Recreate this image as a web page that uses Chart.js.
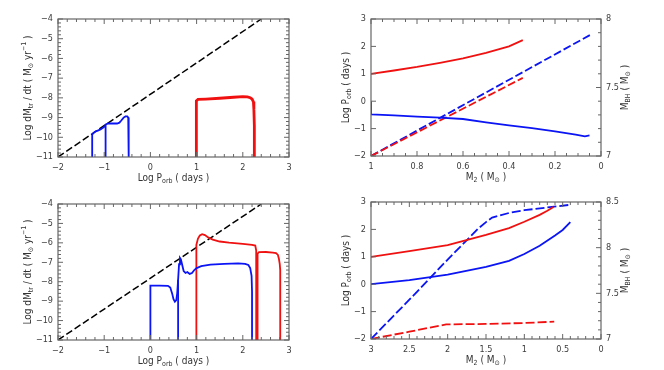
<!DOCTYPE html>
<html>
<head>
<meta charset="utf-8">
<script src="https://cdn.jsdelivr.net/npm/chart.js@4.4.1/dist/chart.umd.min.js"></script>
<style>
  html, body { margin: 0; padding: 0; background: #fff; }
  #wrap { position: relative; width: 664px; height: 370px; }
  #wrap canvas { position: absolute; }
</style>
</head>
<body>
<div id="wrap">
  <canvas id="tl" width="332" height="185" style="left:0;top:0"></canvas>
  <canvas id="tr" width="332" height="185" style="left:332px;top:0"></canvas>
  <canvas id="bl" width="332" height="185" style="left:0;top:185px"></canvas>
  <canvas id="br" width="332" height="185" style="left:332px;top:185px"></canvas>
</div>
<script>
// values, as [x, y] pairs

// critical rate line, same in both left panels
const limitLine = [[-2, -11], [2.4, -4]]

// top left: log dM/dt against log P
const tlBlueA = [[-1.26, -11], [-1.26, -9.88], [-1.24, -9.8], [-1.2, -9.72], [-1.14, -9.66], [-1.08, -9.6], [-1.02, -9.5], [-0.97, -9.42]]
const tlBlueB = [[-0.97, -11], [-0.97, -9.36], [-0.92, -9.3], [-0.8, -9.3], [-0.72, -9.3], [-0.67, -9.26], [-0.63, -9.15], [-0.58, -9.0], [-0.54, -8.94], [-0.5, -8.94], [-0.48, -9.0], [-0.47, -9.3], [-0.47, -11]]
const tlRed = [[0.99, -11], [0.99, -8.3], [1.0, -8.15], [1.03, -8.08], [1.2, -8.06], [1.5, -8.02], [1.8, -7.97], [2.0, -7.94], [2.1, -7.95], [2.16, -7.99], [2.2, -8.06], [2.23, -8.2], [2.24, -8.6], [2.25, -9.4], [2.25, -11]]

// top right: log P (left axis) and M_BH (right axis) against donor mass
const trRedP = [[1, 1.0], [0.9, 1.12], [0.8, 1.25], [0.7, 1.4], [0.6, 1.56], [0.5, 1.76], [0.4, 2.0], [0.34, 2.23]]
const trBlueP = [[1, 0.0], [1, -0.48], [0.9, -0.52], [0.8, -0.56], [0.7, -0.6], [0.6, -0.65], [0.5, -0.77], [0.4, -0.88], [0.3, -0.98], [0.2, -1.1], [0.11, -1.22], [0.07, -1.28], [0.05, -1.25]]
const trRedMbh = [[1, 7.0], [0.34, 7.57]]
const trBlueMbh = [[1, 7.0], [0.04, 7.89]]

// bottom left
const blBlueA = [[0, -11], [0, -8.2], [0.2, -8.2], [0.38, -8.21], [0.43, -8.3], [0.47, -8.6], [0.5, -8.9], [0.53, -9.03], [0.56, -8.95], [0.58, -8.6], [0.6, -7.9], [0.62, -7.1], [0.64, -6.78], [0.66, -6.85], [0.69, -7.15], [0.72, -7.45], [0.76, -7.55], [0.8, -7.5], [0.85, -7.6], [0.9, -7.55], [0.95, -7.4], [1.0, -7.3], [1.1, -7.2], [1.3, -7.12], [1.6, -7.08], [1.9, -7.06], [2.05, -7.08], [2.12, -7.14], [2.16, -7.3], [2.19, -7.7], [2.2, -8.5], [2.2, -11]]
const blBlueB = [[0.6, -11], [0.6, -7.9]]
const blRedA = [[0.99, -11], [0.99, -6.6], [1.0, -6.1], [1.03, -5.78], [1.07, -5.62], [1.12, -5.55], [1.18, -5.6], [1.25, -5.72], [1.35, -5.83], [1.5, -5.93], [1.7, -5.99], [2.0, -6.05], [2.2, -6.1], [2.27, -6.14], [2.29, -6.4], [2.29, -11]]
const blRedB = [[2.32, -11], [2.32, -6.55], [2.35, -6.48], [2.5, -6.47], [2.65, -6.5], [2.72, -6.53], [2.76, -6.62], [2.78, -6.8], [2.8, -7.1], [2.81, -7.4], [2.81, -11]]

// bottom right
const brRedP = [[3, 1.0], [2.5, 1.21], [2.0, 1.43], [1.5, 1.8], [1.2, 2.05], [1.0, 2.28], [0.8, 2.53], [0.7, 2.68], [0.62, 2.82]]
const brBlueP = [[3, 0.0], [2.5, 0.15], [2.0, 0.35], [1.5, 0.63], [1.2, 0.85], [1.0, 1.1], [0.8, 1.4], [0.6, 1.78], [0.5, 1.98], [0.4, 2.27]]
const brBlueMbh = [[3, 7.0], [2.5, 7.43], [2.0, 7.87], [1.6, 8.21], [1.5, 8.28], [1.42, 8.33], [1.2, 8.38], [1.0, 8.41], [0.7, 8.44], [0.4, 8.47]]
const brRedMbh = [[3, 7.0], [2.5, 7.08], [2.02, 7.16], [1.5, 7.165], [1.0, 7.175], [0.61, 7.19]]

// axis titles, _{} is subscript and ^{} superscript
const titleP = 'Log P_{orb} ( days )'
const titleRate = 'Log dM_{tr} / dt ( M_{\u2299} yr^{\u22121} )'
const titleM2 = 'M_{2} ( M_{\u2299} )'
const titleMbh = 'M_{BH} ( M_{\u2299} )'

const FONT = "'Liberation Sans Narrow', 'DejaVu Sans Condensed', 'Liberation Sans', sans-serif"
const BLUE = '#0a14f5'
const RED = '#f01010'

const fmt = v => String(Math.round(v * 100) / 100).replace('-', '\u2212')
const pts = arr => arr.map(([x, y]) => ({ x, y }))

function parseRich(s) {
  const segs = []
  const re = /([_^])\{([^}]*)\}/g
  let last = 0, m
  while ((m = re.exec(s))) {
    if (m.index > last) segs.push([s.slice(last, m.index), 0])
    segs.push([m[2], m[1] === '_' ? 1 : -1])
    last = re.lastIndex
  }
  if (last < s.length) segs.push([s.slice(last), 0])
  return segs
}

function drawRich(ctx, text, cx, cy, rot) {
  const segs = parseRich(text)
  const fontOf = k => (k ? '7px ' : '10px ') + FONT
  let total = 0
  segs.forEach(([t, k]) => { ctx.font = fontOf(k); total += ctx.measureText(t).width })
  ctx.save()
  ctx.translate(cx, cy)
  ctx.rotate(rot)
  ctx.fillStyle = '#333'
  ctx.textBaseline = 'middle'
  ctx.textAlign = 'left'
  let x = -total / 2
  segs.forEach(([t, k]) => {
    ctx.font = fontOf(k)
    ctx.fillText(t, x, k === 1 ? 3 : k === -1 ? -4 : 0)
    x += ctx.measureText(t).width
  })
  ctx.restore()
}

// box round the plot with inward major and minor ticks
const frameTicks = {
  id: 'frameTicks',
  afterDatasetsDraw(chart, args, opts) {
    const { ctx, chartArea: a, scales } = chart
    const marks = (scale, step) => {
      const major = scale.ticks.map(t => t.value)
      const out = major.map(v => [v, 5])
      if (step) {
        const n = Math.round((scale.max - scale.min) / step)
        for (let i = 0; i <= n; i++) {
          const v = scale.min + i * step
          if (!major.some(mv => Math.abs(mv - v) < step / 10)) out.push([v, 3])
        }
      }
      return out
    }
    ctx.save()
    ctx.strokeStyle = '#666'
    ctx.lineWidth = 1.2
    ctx.strokeRect(a.left, a.top, a.width, a.height)
    ctx.lineWidth = 1
    ctx.beginPath()
    marks(scales.x, opts.x).forEach(([v, len]) => {
      const p = scales.x.getPixelForValue(v)
      ctx.moveTo(p, a.bottom); ctx.lineTo(p, a.bottom - len)
      ctx.moveTo(p, a.top); ctx.lineTo(p, a.top + len)
    })
    marks(scales.y, opts.y).forEach(([v, len]) => {
      const p = scales.y.getPixelForValue(v)
      ctx.moveTo(a.left, p); ctx.lineTo(a.left + len, p)
      if (!scales.y1) { ctx.moveTo(a.right, p); ctx.lineTo(a.right - len, p) }
    })
    if (scales.y1) {
      marks(scales.y1, opts.y1).forEach(([v, len]) => {
        const p = scales.y1.getPixelForValue(v)
        ctx.moveTo(a.right, p); ctx.lineTo(a.right - len, p)
      })
    }
    ctx.stroke()
    ctx.restore()
  }
}

const axisTitles = {
  id: 'axisTitles',
  afterDraw(chart, args, opts) {
    const { ctx, chartArea: a } = chart
    const cy = (a.top + a.bottom) / 2
    if (opts.x) drawRich(ctx, opts.x, (a.left + a.right) / 2, a.bottom + 21, 0)
    if (opts.y) drawRich(ctx, opts.y, a.left - opts.yGap, cy, -Math.PI / 2)
    if (opts.y1) drawRich(ctx, opts.y1, a.right + opts.y1Gap, cy, -Math.PI / 2)
  }
}

function axis(min, max, step, fit, extra) {
  return Object.assign({
    type: 'linear', min, max,
    grid: { display: false, drawTicks: false },
    border: { display: false },
    ticks: { stepSize: step, autoSkip: false, maxRotation: 0, font: { family: FONT, size: 9 }, color: '#3c3c3c', callback: fmt, padding: 5 },
    afterFit: fit
  }, extra)
}

function line(data, color, extra) {
  return Object.assign({
    data: pts(data), borderColor: color, borderWidth: 1.8,
    showLine: true, pointRadius: 0, fill: false, tension: 0
  }, extra)
}

function panel(id, datasets, scales, padding, ticks, titles) {
  return new Chart(document.getElementById(id), {
    type: 'scatter',
    data: { datasets },
    options: {
      responsive: false,
      animation: false,
      devicePixelRatio: 1,
      layout: { padding },
      scales,
      plugins: {
        legend: { display: false },
        tooltip: { enabled: false },
        frameTicks: ticks,
        axisTitles: titles
      }
    },
    plugins: [frameTicks, axisTitles]
  })
}

const dashBlack = { borderColor: '#000', borderWidth: 1.5, borderDash: [7, 3] }

panel('tl', [
  line(tlBlueA, BLUE),
  line(tlBlueB, BLUE),
  line(tlRed, RED, { borderWidth: 2.8 }),
  line(limitLine, '#000', dashBlack)
], {
  x: axis(-2, 3, 1, s => { s.height = 28 }),
  y: axis(-11, -4, 1, s => { s.width = 58 })
}, { top: 19, right: 43, left: 0, bottom: 0 }, { x: 0.2, y: 0.2 },
  { x: titleP, y: titleRate, yGap: 30 })

panel('tr', [
  line(trRedP, RED),
  line(trBlueP, BLUE),
  line(trRedMbh, RED, { yAxisID: 'y1', borderDash: [8, 3] }),
  line(trBlueMbh, BLUE, { yAxisID: 'y1', borderDash: [8, 3] })
], {
  x: axis(0, 1, 0.2, s => { s.height = 29 }, { reverse: true }),
  y: axis(-2, 3, 1, s => { s.width = 39 }),
  y1: axis(7, 8, 0.5, s => { s.width = 40 }, { position: 'right' })
}, { top: 19, right: 23, left: 0, bottom: 0 }, { x: 0.05, y: 0, y1: 0.1 },
  { x: titleM2, y: titleP, yGap: 25, y1: titleMbh, y1Gap: 24 })

panel('bl', [
  line(blBlueA, BLUE),
  line(blBlueB, BLUE),
  line(blRedA, RED),
  line(blRedB, RED),
  line(limitLine, '#000', dashBlack)
], {
  x: axis(-2, 3, 1, s => { s.height = 30 }),
  y: axis(-11, -4, 1, s => { s.width = 58 })
}, { top: 19, right: 43, left: 0, bottom: 0 }, { x: 0.2, y: 0.2 },
  { x: titleP, y: titleRate, yGap: 30 })

panel('br', [
  line(brRedP, RED),
  line(brBlueP, BLUE),
  line(brBlueMbh, BLUE, { yAxisID: 'y1', borderDash: [9, 3] }),
  line(brRedMbh, RED, { yAxisID: 'y1', borderDash: [9, 3] })
], {
  x: axis(0, 3, 0.5, s => { s.height = 31 }, { reverse: true }),
  y: axis(-2, 3, 1, s => { s.width = 39 }),
  y1: axis(7, 8.5, 0.5, s => { s.width = 40 }, { position: 'right' })
}, { top: 17, right: 23, left: 0, bottom: 0 }, { x: 0.1, y: 0, y1: 0.1 },
  { x: titleM2, y: titleP, yGap: 25, y1: titleMbh, y1Gap: 24 })
</script>
</body>
</html>
